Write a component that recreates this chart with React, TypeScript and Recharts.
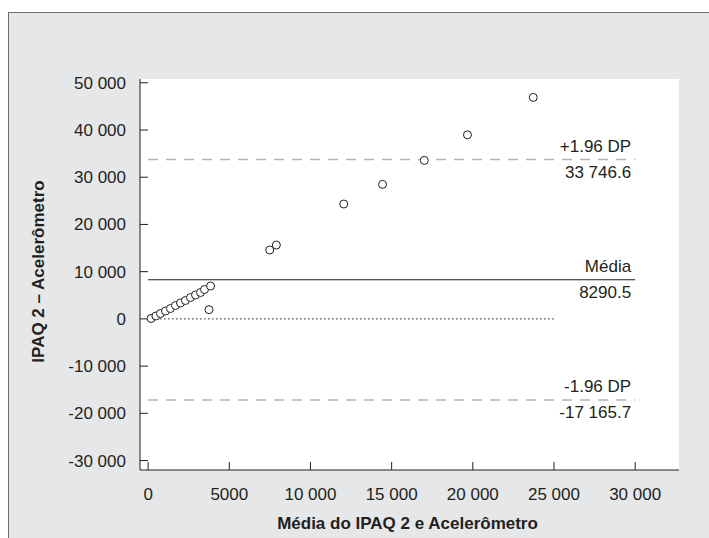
import React from 'react';
import {
  ScatterChart,
  Scatter,
  XAxis,
  YAxis,
  CartesianGrid,
  ReferenceLine,
} from 'recharts';

// mean of the two methods (x) vs difference (y)
const meanValues = [185, 480, 760, 1070, 1375, 1685, 1995, 2300, 2610, 2920, 3230, 3475, 3845, 3750, 7490, 7900, 12050, 14440, 17010, 19670, 23720];
const diffValues = [85, 615, 1140, 1670, 2200, 2835, 3365, 3895, 4530, 5060, 5590, 6220, 6965, 1950, 14580, 15640, 24320, 28490, 33570, 38980, 46900];

const xTicks = [0, 5000, 10000, 15000, 20000, 25000, 30000];
const yTicks = [-30000, -20000, -10000, 0, 10000, 20000, 30000, 40000, 50000];

const limitValues = [33746.6, 8290.5, -17165.7];
const limitNames = ['+1.96 DP', 'Média', '-1.96 DP'];
const limitTexts = ['33 746.6', '8290.5', '-17 165.7'];

const lineStart = 0;
const lineEnd = 30000;
const zeroLineEnd = 25000;

const ink = '#231f20';
const font = '"Liberation Sans", Arial, Helvetica, sans-serif';

const points = meanValues.map((x, i) => ({ x, y: diffValues[i] }));

const fmt = (v: number) => {
  const a = Math.abs(v);
  if (a < 10000) return String(v);
  const s = String(a);
  return (v < 0 ? '-' : '') + s.slice(0, s.length - 3) + ' ' + s.slice(-3);
};

const SideLabel = (props: any) => {
  const { viewBox, top, bottom } = props;
  if (!viewBox) return null;
  const rx = viewBox.x + viewBox.width - 4;
  const y = viewBox.y;
  return (
    <g fontFamily={font} fontSize={17} fill={ink}>
      <text x={rx} y={y - 13} textAnchor="end" dominantBaseline="central">{top}</text>
      <text x={rx} y={y + 13} textAnchor="end" dominantBaseline="central">{bottom}</text>
    </g>
  );
};

const YTitle = (props: any) => {
  const { viewBox } = props;
  if (!viewBox) return null;
  const cx = viewBox.x - 42;
  const cy = viewBox.y + viewBox.height / 2 - 3;
  return (
    <text
      x={cx}
      y={cy}
      transform={`rotate(-90, ${cx}, ${cy})`}
      textAnchor="middle"
      dominantBaseline="central"
      fontFamily={font}
      fontSize={17}
      fontWeight="bold"
      fill={ink}
    >
      IPAQ 2 – Acelerômetro
    </text>
  );
};

const XTitle = (props: any) => {
  const { viewBox } = props;
  if (!viewBox) return null;
  return (
    <text
      x={viewBox.x + viewBox.width / 2 - 2}
      y={viewBox.y + 53}
      textAnchor="middle"
      dominantBaseline="central"
      fontFamily={font}
      fontSize={17}
      fontWeight="bold"
      fill={ink}
    >
      Média do IPAQ 2 e Acelerômetro
    </text>
  );
};

const Ring = (props: any) => (
  <circle cx={props.cx} cy={props.cy} r={4} fill="#fff" stroke={ink} strokeWidth={1} />
);

const App: React.FC = () => {
  return (
    <div style={{ position: 'absolute', left: 0, top: 0, width: 709, height: 538, fontFamily: font }}>
      <div
        style={{
          position: 'absolute',
          left: 8,
          top: 12,
          width: 701,
          height: 526,
          background: '#e6e7e8',
          borderLeft: '1.5px solid #6d6e71',
          borderTop: '1.5px solid #6d6e71',
          boxSizing: 'border-box',
        }}
      />
      <div style={{ position: 'absolute', left: 0, top: 0 }}>
        <ScatterChart width={709} height={538} margin={{ top: 79, right: 30, bottom: 38, left: 80 }}>
          <CartesianGrid fill="#ffffff" stroke="none" horizontal={false} vertical={false} />
          <XAxis
            type="number"
            dataKey="x"
            domain={[-500, 32700]}
            ticks={xTicks}
            allowDataOverflow
            height={30}
            tickFormatter={fmt}
            tickSize={-8}
            tickMargin={26}
            axisLine={{ stroke: ink }}
            tickLine={{ stroke: ink }}
            tick={{ fill: ink, fontSize: 17, fontFamily: font }}
            label={<XTitle />}
          />
          <YAxis
            type="number"
            dataKey="y"
            domain={[-32000, 50800]}
            ticks={yTicks}
            allowDataOverflow
            width={60}
            tickFormatter={fmt}
            tickSize={-8}
            tickMargin={22}
            axisLine={{ stroke: ink }}
            tickLine={{ stroke: ink }}
            tick={{ fill: ink, fontSize: 17, fontFamily: font }}
            label={<YTitle />}
          />
          <ReferenceLine
            segment={[{ x: lineStart, y: 0 }, { x: zeroLineEnd, y: 0 }]}
            stroke={ink}
            strokeDasharray="1.5 2.5"
            strokeWidth={1}
          />
          {limitValues.map((v, i) => (
            <ReferenceLine
              key={limitNames[i]}
              segment={[{ x: lineStart, y: v }, { x: lineEnd, y: v }]}
              stroke={i === 1 ? ink : '#b1b3b6'}
              strokeWidth={i === 1 ? 1.2 : 1.6}
              strokeDasharray={i === 1 ? undefined : '10 8'}
              label={<SideLabel top={limitNames[i]} bottom={limitTexts[i]} />}
            />
          ))}
          <Scatter data={points} shape={<Ring />} isAnimationActive={false} />
        </ScatterChart>
      </div>
    </div>
  );
};

export default App;
